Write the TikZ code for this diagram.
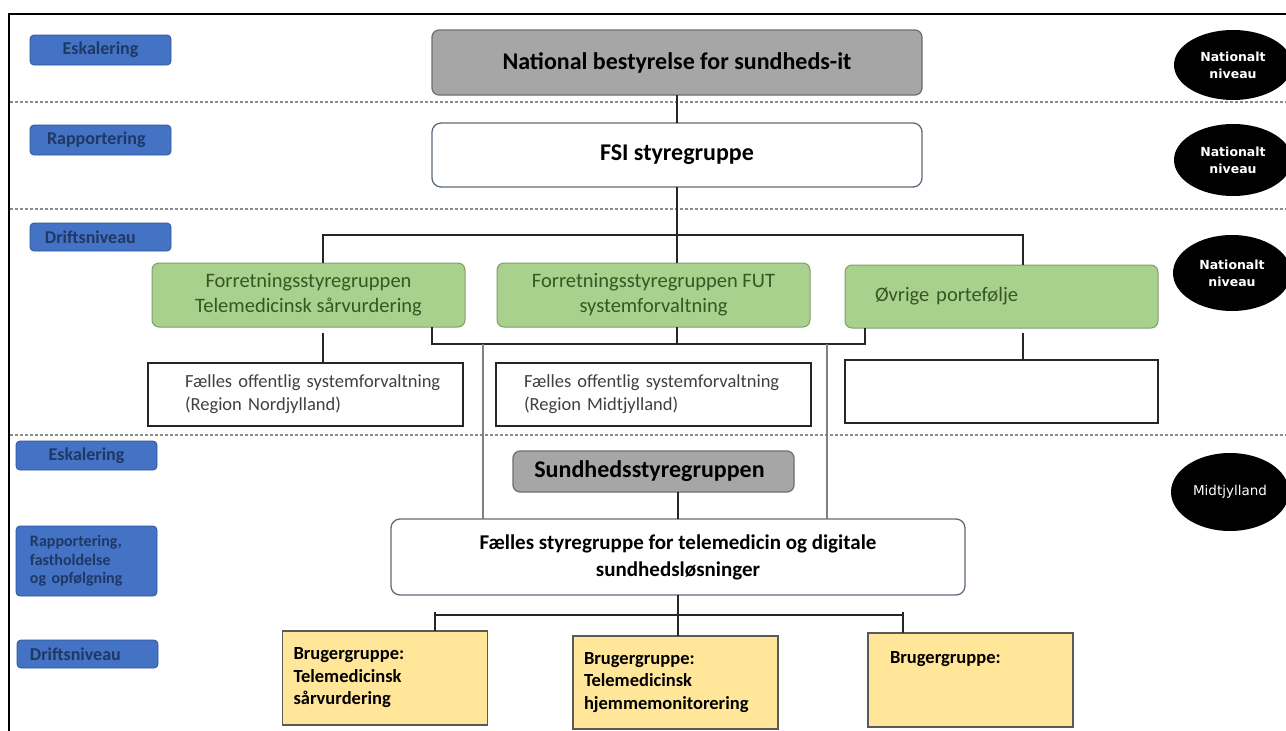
\documentclass[tikz,border=0pt]{standalone}
\usepackage{fontspec}
\setmainfont{Carlito}
\newfontfamily\ellfont{DejaVu Sans}
\usetikzlibrary{shapes.geometric,calc}
\definecolor{lblue}{HTML}{4472C4}
\definecolor{lbluedk}{HTML}{2F5597}
\definecolor{navy}{HTML}{1F3864}
\definecolor{gfill}{HTML}{A9D18E}
\definecolor{gdraw}{HTML}{7F9F6A}
\definecolor{gtext}{HTML}{375623}
\definecolor{grfill}{HTML}{A6A6A6}
\definecolor{grdraw}{HTML}{6E6E6E}
\definecolor{yfill}{HTML}{FFE699}
\definecolor{ydraw}{HTML}{595959}
\definecolor{rdraw}{HTML}{5F6B7A}
\definecolor{linec}{HTML}{262626}
\definecolor{dashc}{HTML}{8C8C8C}
\definecolor{wtext}{HTML}{404040}
\newcommand\fsz[2]{\fontsize{#1}{#2}\selectfont}
\begin{document}
\begin{tikzpicture}[x=1pt,y=-1pt,
  every node/.style={inner sep=0pt, outer sep=0pt},
  bluelbl/.style={draw=lbluedk, line width=0.8pt, fill=lblue, rounded corners=4pt, text=navy, font=\bfseries\fsz{18}{20}, minimum width=141pt},
  greenbox/.style={draw=gdraw, line width=1pt, fill=gfill, rounded corners=7pt, text=gtext, font=\fsz{20.5}{25}, align=center, minimum width=313pt, minimum height=64pt},
  graybox/.style={draw=grdraw, line width=1.2pt, fill=grfill, rounded corners=7pt, text=black, font=\bfseries\fsz{24}{28}},
  roundwhite/.style={draw=rdraw, line width=1.3pt, fill=white, rounded corners=9pt, text=black, font=\bfseries},
  whitebox/.style={draw=linec, line width=1.5pt, fill=white, text=wtext, font=\fsz{18.5}{23}, minimum width=315pt, minimum height=63pt, text width=305pt, align=left},
  yellowbox/.style={draw=ydraw, line width=1.5pt, fill=yfill, text=black, font=\bfseries\fsz{18.5}{22.5}, align=left, minimum width=205pt, minimum height=94pt},
  ellbox/.style={ellipse, fill=black, text=white, font=\ellfont\bfseries\fsz{12.5}{17}, align=center, minimum width=118pt, minimum height=72pt},
  conn/.style={draw=linec, line width=1.8pt},
  gline/.style={draw=gray, line width=1.1pt},
  dashline/.style={draw=dashc, line width=1.2pt, dash pattern=on 3pt off 2pt}
]
\useasboundingbox (0,0) rectangle (1286,731);
\fill[white] (0,0) rectangle (1286,731);

% frame
\draw[line width=2pt, black] (9,731) -- (9,14) -- (1286,14);

% dashed separators
\draw[dashline] (10,102) -- (1286,102);
\draw[dashline] (10,209) -- (1286,209);
\draw[dashline] (10,435) -- (1286,435);

% blue labels
\node[bluelbl, minimum height=30pt] (e1) at (100.5,50) {Eskalering};
\node[bluelbl, minimum height=30pt, text width=107pt, align=left] (r1) at (100.5,140) {Rapportering};
\node[bluelbl, minimum height=28pt, text width=111pt, align=left] (d1) at (100.5,237) {Driftsniveau};
\node[bluelbl, minimum height=29pt] (e2) at (86.5,455.5) {Eskalering};
\node[bluelbl, minimum height=70pt, text width=113pt, align=left, font=\bfseries\fsz{16}{18.5}] (r2) at (86.5,561) {Rapportering,\\fastholdelse\\og opfølgning};
\node[bluelbl, minimum height=28pt, text width=115pt, align=left] (d2) at (87.5,654) {Driftsniveau};

% main boxes
\node[graybox, minimum width=490pt, minimum height=65pt] (nb) at (677,62.5) {National bestyrelse for sundheds-it};
\node[roundwhite, minimum width=490pt, minimum height=64pt, font=\bfseries\fsz{24}{28}] (fsi) at (677,155) {FSI styregruppe};

\node[greenbox] (g1) at (308.5,295) {Forretningsstyregruppen\\Telemedicinsk sårvurdering};
\node[greenbox] (g2) at (653.5,295) {Forretningsstyregruppen FUT\\systemforvaltning};
\node[greenbox, minimum height=63pt, text width=253pt, align=left] (g3) at (1001.5,296.5) {Øvrige portefølje};

\node[whitebox] (w1) at (305.5,394.5) {\hspace*{32pt}Fælles offentlig systemforvaltning\\\hspace*{32pt}(Region Nordjylland)};
\node[whitebox] (w2) at (653.5,394.5) {\hspace*{23pt}Fælles offentlig systemforvaltning\\\hspace*{23pt}(Region Midtjylland)};
\node[whitebox, minimum width=313pt] (w3) at (1001.5,391.5) {};

\node[graybox, minimum width=281pt, minimum height=41pt] (sg) at (653.5,471.5) {Sundhedsstyregruppen\hspace*{8pt}};
\node[roundwhite, minimum width=574pt, minimum height=76pt, align=center, font=\bfseries\fsz{21}{27}] (fs) at (678,557) {Fælles styregruppe for telemedicin og digitale\\sundhedsløsninger};

\node[yellowbox, text width=183pt] (y1) at (385,678) {Brugergruppe:\\Telemedicinsk\\sårvurdering};
\node[yellowbox, text width=183pt, minimum height=93pt] (y2) at (675.5,682.5) {Brugergruppe:\\Telemedicinsk\\hjemmemonitorering};
\node[yellowbox, text width=161pt] (y3) at (970.5,680) {Brugergruppe:\\\mbox{}\\\mbox{}};

% ellipses
\node[ellbox, minimum height=70pt] (n1) at (1233,65) {Nationalt\\niveau};
\node[ellbox] (n2) at (1233,160) {Nationalt\\niveau};
\node[ellbox, minimum height=76pt] (n3) at (1232,273) {Nationalt\\niveau};
\node[ellbox, minimum height=78pt, font=\ellfont\fsz{13.5}{17}] (n4) at (1230,492) {Midtjylland};

% connectors
\draw[conn] (nb.south) -- (fsi.north);
\coordinate (a1) at (323,235);
\coordinate (a3) at (1023,235);
\draw[conn] (a1 |- g1.north) -- (a1) -- (a3) -- (a3 |- g3.north);
\draw[conn] (fsi.south) -- (fsi.south |- g2.north);
\draw[conn] ($(a1 |- g1.south)+(0,6)$) -- (a1 |- w1.north);
\draw[conn] ($(a3 |- g3.south)+(0,5)$) -- (a3 |- w3.north);
\coordinate (b1) at (432,344);
\coordinate (b3) at (865,344);
\draw[conn] (b1 |- g1.south) -- (b1) -- (b3) -- (b3 |- g3.south);
\draw[conn] (fsi.south |- g2.south) -- (fsi.south |- b1);
\coordinate (v1) at (483,344);
\coordinate (v2) at (827,344);
\draw[gline] (v1) -- (v1 |- fs.north);
\draw[gline] (v2) -- (v2 |- fs.north);
\draw[conn] (fs.north |- sg.south) -- (fs.north);
\draw[conn] (fs.south) -- (fs.south |- y2.north);
\coordinate (t1) at (435,615);
\coordinate (t3) at (903,615);
\draw[conn] (t1) -- (t3);
\draw[conn] ($(t1)+(0,-3)$) -- (t1 |- y1.north);
\draw[conn] ($(t3)+(0,-3)$) -- (t3 |- y3.north);
\end{tikzpicture}
\end{document}
